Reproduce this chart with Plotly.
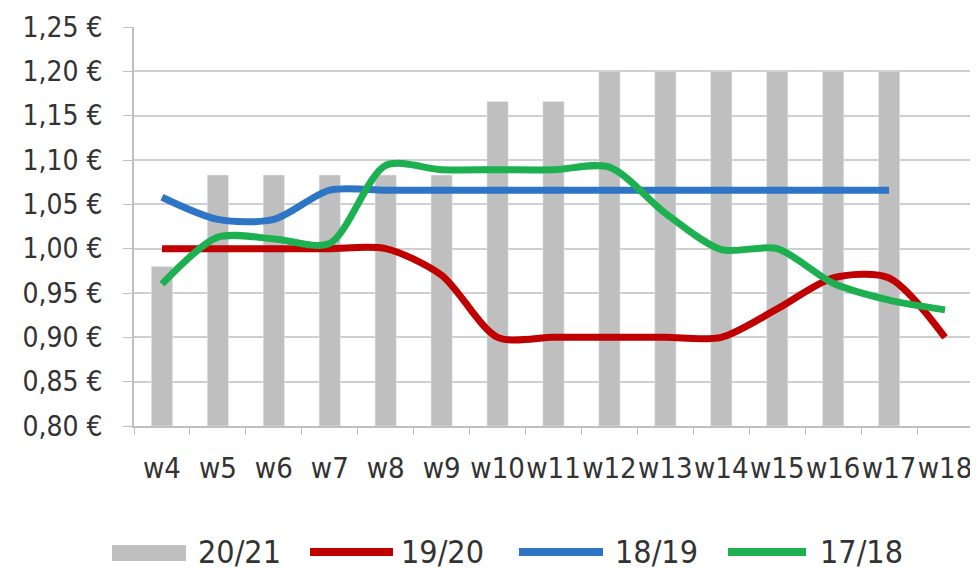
import plotly.graph_objects as go

weeks = ["w4", "w5", "w6", "w7", "w8", "w9", "w10", "w11", "w12", "w13", "w14", "w15", "w16", "w17", "w18"]
s2021 = [0.98, 1.083, 1.083, 1.083, 1.083, 1.083, 1.166, 1.166, 1.20, 1.20, 1.20, 1.20, 1.20, 1.20, None]
s1920 = [1.00, 1.00, 1.00, 1.00, 1.00, 0.97, 0.90, 0.90, 0.90, 0.90, 0.90, 0.932, 0.967, 0.967, 0.90]
s1819 = [1.058, 1.033, 1.033, 1.066, 1.066, 1.066, 1.066, 1.066, 1.066, 1.066, 1.066, 1.066, 1.066, 1.066, None]
s1718 = [0.96, 1.013, 1.011, 1.006, 1.094, 1.089, 1.089, 1.089, 1.092, 1.04, 0.999, 1.0, 0.961, 0.942, 0.931]

series_names = ["20/21", "19/20", "18/19", "17/18"]
series_colors = ["#BFBFBF", "#C00000", "#2E75C6", "#1DB050"]

yticks = [0.80, 0.85, 0.90, 0.95, 1.00, 1.05, 1.10, 1.15, 1.20, 1.25]
yticktext = ["0,80 €", "0,85 €", "0,90 €", "0,95 €", "1,00 €", "1,05 €", "1,10 €", "1,15 €", "1,20 €", "1,25 €"]

BASE = 0.80
font_family = "DejaVu Sans Condensed, DejaVu Sans, sans-serif"
text_color = "#333333"

fig = go.Figure()
fig.add_trace(go.Bar(x=weeks, y=[None if v is None else v - BASE for v in s2021], base=BASE,
                     name=series_names[0], marker_color=series_colors[0], showlegend=False))
for name, vals, col in zip(series_names[1:], [s1920, s1819, s1718], series_colors[1:]):
    fig.add_trace(go.Scatter(x=weeks, y=vals, name=name, mode="lines", showlegend=False,
                             line=dict(color=col, width=7, shape="spline", smoothing=0.8)))

# page body has an 8px margin; figure is offset by (8, 8) in the window
OFF = 8
WIN_W, WIN_H = 978, 570
W, H = WIN_W - OFF, WIN_H - OFF
# plot area in window pixels
PX0, PX1, PY0, PY1 = 134, 973, 27, 426
L, R, T, B = PX0 - OFF, WIN_W - PX1, PY0 - OFF, WIN_H - PY1

def px(x):
    return (x - PX0) / (PX1 - PX0)
def py(y):
    return (PY1 - y) / (PY1 - PY0)

shapes = []
annotations = []
leg_y = 552
shapes.append(dict(type="rect", xref="paper", yref="paper", x0=px(112), x1=px(186),
                   y0=py(561), y1=py(545), fillcolor=series_colors[0], line=dict(width=0)))
annotations.append(dict(xref="paper", yref="paper", x=px(196), y=py(leg_y), text=series_names[0],
                        showarrow=False, xanchor="left", yanchor="middle"))
line_items = [(310, 393, 399), (519, 603, 613), (728, 806, 818)]
for (x0, x1, xt), name, col in zip(line_items, series_names[1:], series_colors[1:]):
    shapes.append(dict(type="line", xref="paper", yref="paper", x0=px(x0), x1=px(x1),
                       y0=py(leg_y), y1=py(leg_y), line=dict(color=col, width=8)))
    annotations.append(dict(xref="paper", yref="paper", x=px(xt), y=py(leg_y), text=name,
                            showarrow=False, xanchor="left", yanchor="middle"))

fig.update_layout(
    width=W, height=H,
    margin=dict(l=L, r=R, t=T, b=B, pad=0),
    plot_bgcolor="white", paper_bgcolor="white",
    bargap=0.62,
    showlegend=False,
    font=dict(family=font_family, size=27, color=text_color),
    shapes=shapes,
    annotations=[dict(a, font=dict(family=font_family, size=32, color=text_color)) for a in annotations],
)
fig.update_xaxes(
    type="category", showgrid=False, showline=True, linecolor="#BFBFBF", linewidth=1.5,
    ticks="outside", tickson="boundaries", ticklen=7, tickcolor="#BFBFBF",
    tickfont=dict(size=29, color=text_color), ticklabelstandoff=15, automargin=False,
    tickangle=0, range=[-0.5, 14.5],
)
fig.update_yaxes(
    range=[0.80, 1.25], tickvals=yticks, ticktext=yticktext,
    showgrid=True, gridcolor="#CFCFCF", gridwidth=2,
    showline=True, linecolor="#BFBFBF", linewidth=1.5,
    ticks="outside", ticklen=9, tickcolor="#BFBFBF",
    tickfont=dict(size=28, color=text_color), ticklabelstandoff=15, zeroline=False,
    automargin=False,
)

fig.write_html("out.html")
